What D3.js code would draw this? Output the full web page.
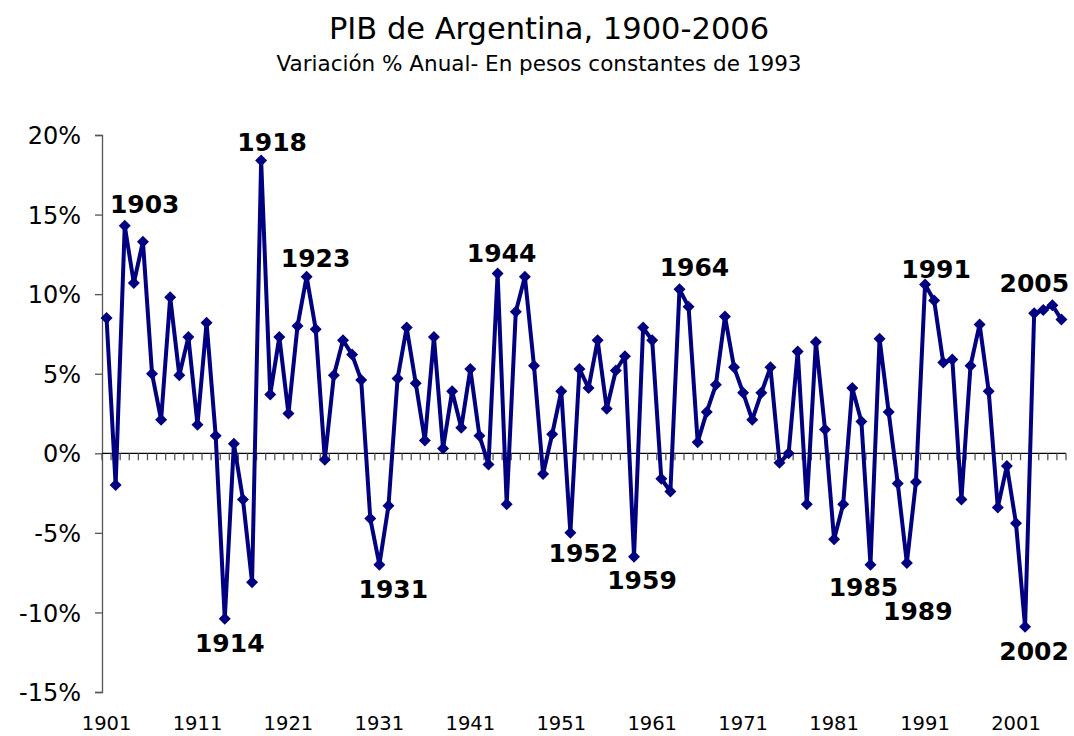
<!DOCTYPE html>
<meta charset="utf-8">
<script src="https://d3js.org/d3.v7.min.js"></script>
<style>
  body { margin: 0; background: #fff; }
  text { font-family: "DejaVu Sans", Verdana, sans-serif; }
</style>
<div id="chart"></div>
<script>

// years 1901..2006
var years = d3.range(1901, 2007);

// annual % change of GDP
var growth = [
  8.5, -2.0, 14.3, 10.7, 13.3, 5.0, 2.1, 9.8, 4.9, 7.3,
  1.8, 8.2, 1.1, -10.4, 0.6, -2.9, -8.1, 18.4, 3.7, 7.3,
  2.5, 8.0, 11.1, 7.8, -0.4, 4.9, 7.1, 6.2, 4.6, -4.1,
  -7.0, -3.3, 4.7, 7.9, 4.4, 0.8, 7.3, 0.3, 3.9, 1.6,
  5.3, 1.1, -0.7, 11.3, -3.2, 8.9, 11.1, 5.5, -1.3, 1.2,
  3.9, -5.0, 5.3, 4.1, 7.1, 2.8, 5.2, 6.1, -6.5, 7.9,
  7.1, -1.6, -2.4, 10.3, 9.2, 0.7, 2.6, 4.3, 8.6, 5.4,
  3.8, 2.1, 3.8, 5.4, -0.6, 0.0, 6.4, -3.2, 7.0, 1.5,
  -5.4, -3.2, 4.1, 2.0, -7.0, 7.2, 2.6, -1.9, -6.9, -1.8,
  10.6, 9.6, 5.7, 5.9, -2.9, 5.5, 8.1, 3.9, -3.4, -0.8,
  -4.4, -10.9, 8.8, 9.0, 9.3, 8.4
];

var yTicks = [20, 15, 10, 5, 0, -5, -10, -15];
var xLabelYears = [1901, 1911, 1921, 1931, 1941, 1951, 1961, 1971, 1981, 1991, 2001];

// highlighted years and where their label sits relative to the point
var labelYears = [1903, 1914, 1918, 1923, 1931, 1944, 1952, 1959, 1964, 1985, 1989, 1991, 2002, 2005];
var labelOffsets = {
  1903: [20, -13], 1914: [5, 33], 1918: [11, -9], 1923: [9, -10],
  1931: [14, 33], 1944: [4, -11], 1952: [13, 29], 1959: [8, 32],
  1964: [15, -13], 1985: [-7, 31], 1989: [11, 57], 1991: [11, -7],
  2002: [9, 33], 2005: [-18, -13]
};

var W = 1074, H = 736;
var margin = {top: 135, right: 8, bottom: 44, left: 102};
var width = W - margin.left - margin.right,
    height = H - margin.top - margin.bottom;

var svg = d3.select("#chart").append("svg")
    .attr("width", W)
    .attr("height", H);

// titles
svg.append("text")
    .attr("x", 549).attr("y", 39)
    .attr("text-anchor", "middle")
    .style("font-size", "30.5px")
    .text("PIB de Argentina, 1900-2006");
svg.append("text")
    .attr("x", 539).attr("y", 71)
    .attr("text-anchor", "middle")
    .style("font-size", "21.5px")
    .text("Variación % Anual- En pesos constantes de 1993");

var g = svg.append("g")
    .attr("transform", "translate(" + margin.left + "," + margin.top + ")");

var x = d3.scaleBand()
    .domain(years)
    .range([0, width]);

var y = d3.scaleLinear()
    .domain([-15, 20])
    .range([height, 0]);

var cx = function(yr) { return x(yr) + x.bandwidth() / 2; };

// Y axis
var yAxis = g.append("g")
    .call(d3.axisLeft(y).tickValues(yTicks).tickSize(7).tickPadding(14)
      .tickFormat(function(d) { return d + "%"; }));
yAxis.select(".domain").attr("stroke", "#555").attr("stroke-width", 1.3);
yAxis.selectAll(".tick line").attr("stroke", "#555").attr("stroke-width", 1.3);
yAxis.selectAll(".tick text")
    .style("font-size", "24px")
    .attr("fill", "#000")
    .attr("dy", "0.36em");

// X axis: line at 0%, ticks between categories
var boundaries = years.map(function(d) { return x(d); }).concat([width]);
var xAxis = g.append("g").attr("transform", "translate(0," + y(0) + ")");
xAxis.append("line")
    .attr("x1", 0).attr("x2", width)
    .attr("stroke", "#000").attr("stroke-width", 1.3);
xAxis.selectAll(".xt")
    .data(boundaries)
    .enter().append("line")
    .attr("x1", function(d) { return d; })
    .attr("x2", function(d) { return d; })
    .attr("y1", 0).attr("y2", 7)
    .attr("stroke", "#555").attr("stroke-width", 1.3);

// x labels at bottom
g.selectAll(".xl")
    .data(xLabelYears)
    .enter().append("text")
    .attr("x", function(d) { return cx(d); })
    .attr("y", height + 38)
    .attr("text-anchor", "middle")
    .style("font-size", "19.5px")
    .text(function(d) { return d; });

var pts = years.map(function(yr, i) { return {year: yr, v: growth[i]}; });

// line
g.append("path")
    .datum(pts)
    .attr("fill", "none")
    .attr("stroke", "#000080")
    .attr("stroke-width", 4)
    .attr("stroke-linejoin", "round")
    .attr("d", d3.line()
      .x(function(d) { return cx(d.year); })
      .y(function(d) { return y(d.v); }));

// diamond markers
g.selectAll(".mk")
    .data(pts)
    .enter().append("path")
    .attr("transform", function(d) { return "translate(" + cx(d.year) + "," + y(d.v) + ")"; })
    .attr("d", "M0,-6L6,0L0,6L-6,0Z")
    .attr("fill", "#000080");

// year labels
g.selectAll(".lb")
    .data(labelYears)
    .enter().append("text")
    .attr("x", function(d) { return cx(d) + labelOffsets[d][0]; })
    .attr("y", function(d) { return y(growth[years.indexOf(d)]) + labelOffsets[d][1]; })
    .attr("text-anchor", "middle")
    .style("font-size", "25px")
    .style("font-weight", "bold")
    .text(function(d) { return d; });

</script>
